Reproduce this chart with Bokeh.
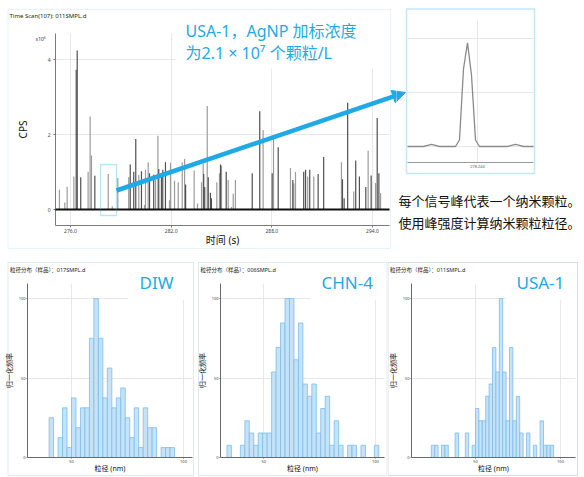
from bokeh.plotting import figure
from bokeh.models import (Range1d, FixedTicker, PrintfTickFormatter, Label, BoxAnnotation,
                          Arrow, NormalHead)
from bokeh.layouts import row, column
from bokeh.embed import file_html
from bokeh.resources import INLINE

# ---------------- data ----------------
scan_title = "Time Scan(107): 011SMPL.d"
time_ticks = [276.0, 282.0, 288.0, 294.0]
cps_ticks = [0, 2, 4]

gray_peak_time = [275.34, 275.66, 275.80, 276.20, 277.05, 277.17, 277.25, 278.25, 278.49, 278.82,
                  279.47, 280.07, 280.41, 280.47, 280.63, 281.07, 281.21, 281.90, 281.96, 282.20,
                  282.42, 282.66, 282.80, 283.37, 283.57, 283.81, 283.91, 284.15, 284.72, 284.88,
                  285.00, 285.40, 285.60, 285.70, 285.83, 287.48, 288.10, 289.11, 289.31, 289.41,
                  290.14, 290.50, 292.15, 292.88, 293.74, 294.18, 294.48]
gray_peak_cps = [0.53, 0.19, 0.61, 0.88, 1.01, 2.48, 1.44, 0.95, 0.09, 0.84,
                 0.86, 0.93, 0.12, 1.06, 1.26, 0.79, 1.97, 0.25, 1.25, 0.77,
                 0.73, 1.26, 1.35, 1.04, 0.16, 0.73, 1.23, 2.76, 0.73, 0.97,
                 1.17, 0.79, 0.07, 0.42, 0.79, 2.12, 1.88, 1.11, 0.70, 1.00,
                 0.88, 0.88, 1.26, 0.48, 1.57, 0.71, 0.44]
dark_peak_time = [276.34, 276.40, 276.61, 277.45, 279.56, 279.77, 279.89, 280.23, 280.71, 280.96,
                  281.26, 281.42, 281.50, 281.66, 282.86, 283.94, 284.00, 284.21, 284.34, 284.40,
                  284.94, 285.28, 286.83, 287.28, 288.02, 288.38, 289.25, 289.90, 290.01, 290.26,
                  290.76, 291.09, 292.21, 292.31, 292.52, 293.00, 293.22, 293.60, 293.92, 294.28,
                  294.38]
dark_peak_cps = [3.73, 4.24, 0.86, 0.90, 1.20, 1.01, 1.88, 1.02, 0.97, 0.93,
                 1.08, 0.95, 1.06, 1.26, 0.67, 0.95, 0.60, 0.86, 0.45, 0.30,
                 1.20, 1.01, 0.97, 2.62, 0.97, 1.66, 0.79, 1.01, 1.06, 1.06,
                 0.95, 1.40, 0.81, 0.30, 2.85, 1.31, 0.88, 0.60, 0.91, 2.44,
                 0.97]

zoom_ticks = [278.244]
zoom_grid = [0.0, 0.5, 1.0]
zoom_time = [278.24225, 278.24235, 278.24245, 278.24255, 278.24265, 278.24275, 278.24285,
             278.24295, 278.24305, 278.24315, 278.24325, 278.24335, 278.24345, 278.24355,
             278.24365, 278.24375, 278.24385, 278.24395, 278.24405, 278.24415, 278.24425,
             278.24435, 278.24445, 278.24455, 278.24465, 278.24475, 278.24485, 278.24495,
             278.24505, 278.24515, 278.24525, 278.24540]
zoom_cps = [0.0, 0.0, 0.0, 0.0, 0.0, 0.01, 0.02, 0.01, 0.0, 0.0, 0.0, 0.0, 0.0, 0.06,
            0.72, 0.96, 0.66, 0.06, 0.0, 0.0, 0.0, 0.0, 0.0, 0.0, 0.0, 0.0, 0.01, 0.02,
            0.01, 0.0, 0.0, 0.0]

size_ticks = [50, 100]
freq_ticks = [0, 50, 100]
bin_width = 2.0

diw_size = [41, 45, 47, 49, 51, 53, 55, 57, 59, 61, 63, 65, 67, 69, 71, 73, 75, 77, 79, 81,
            83, 85, 87, 91, 93, 95]
diw_freq = [25.0, 12.5, 31.25, 6.25, 37.5, 18.75, 31.25, 31.25, 75.0, 100.0, 75.0, 37.5, 56.25,
            31.25, 37.5, 43.75, 25.0, 12.5, 31.25, 6.25, 31.25, 18.75, 18.75, 6.25, 6.25, 6.25]

chn4_size = [34.5, 40.5, 42.5, 44.5, 46.5, 48.5, 50.5, 52.5, 54.5, 56.5, 58.5, 60.5, 62.5, 64.5,
             66.5, 68.5, 70.5, 72.5, 74.5, 76.5, 78.5, 80.5, 82.5, 84.5, 88.5, 90.5, 94.5, 100.5]
chn4_freq = [7.7, 7.7, 23.1, 15.4, 7.7, 15.4, 15.4, 15.4, 53.8, 69.2, 84.6, 100.0, 100.0, 61.5,
             84.6, 46.2, 38.5, 46.2, 15.4, 30.8, 38.5, 7.7, 23.1, 7.7, 7.7, 7.7, 7.7, 7.7]

usa1_size = [25, 27, 31, 33, 39, 45, 49, 51, 53, 55, 57, 59, 61, 63, 65, 67, 69, 71, 73, 75,
             77, 81, 85, 89, 91, 93, 95]
usa1_freq = [7.7, 7.7, 7.7, 7.7, 15.4, 15.4, 7.7, 30.8, 23.1, 23.1, 38.5, 46.2, 69.2, 53.8,
             100.0, 53.8, 23.1, 69.2, 23.1, 38.5, 15.4, 15.4, 7.7, 23.1, 7.7, 7.7, 7.7]

# ---------------- styles ----------------
BLUE = "#1fa9e5"
CJK = "Noto Sans CJK SC"
LAT = "Noto Sans"
MIX = "'Noto Sans', 'Noto Sans CJK SC'"
GRID = "#e8e8e8"


def xmap(p0, v0, per_px):
    return lambda px: v0 + (px - p0) * per_px


def ymap(p0, v0, per_px):
    return lambda py: v0 + (p0 - py) * per_px


def canvas_fig(width, height, xr, yr):
    f = figure(width=width, height=height, output_backend="svg", toolbar_location=None,
               x_range=Range1d(*xr), y_range=Range1d(*yr), min_border=0,
               min_border_left=0, min_border_right=0, min_border_top=0, min_border_bottom=0)
    f.outline_line_color = None
    f.background_fill_color = "white"
    f.border_fill_color = "white"
    f.grid.grid_line_color = GRID
    f.axis.minor_tick_line_color = None
    f.axis.major_tick_in = 0
    return f


def mask(f, fx, fy, l, r, t, b):
    f.add_layout(BoxAnnotation(left=fx(l), right=fx(r), top=fy(t), bottom=fy(b),
                               fill_color="white", fill_alpha=1.0, line_color=None,
                               level="underlay"))


# ---------------- main time scan (page x 0..396, y 0..255) ----------------
tx = xmap(70, 276.0, 18.0 / 302.0)
vy = ymap(209, 0.0, 1.0 / 37.5)
main = canvas_fig(396, 255, (tx(0), tx(396)), (vy(255), vy(0)))

main.xaxis.ticker = FixedTicker(ticks=time_ticks)
main.xaxis.formatter = PrintfTickFormatter(format="%.1f")
main.yaxis.ticker = FixedTicker(ticks=cps_ticks)
main.xaxis.fixed_location = vy(225)
main.xaxis.bounds = (tx(55), tx(389))
main.yaxis.fixed_location = tx(55)
main.yaxis.bounds = (vy(225), vy(33))
main.axis.axis_line_color = "#7a7a7a"
main.axis.major_tick_line_color = "#7a7a7a"
main.axis.major_tick_out = 2
main.yaxis.major_label_standoff = 3
main.xaxis.major_label_standoff = 1
main.axis.major_label_text_font_size = "5px"
main.axis.major_label_text_color = "#444444"
main.axis.major_label_text_font = LAT
main.yaxis.axis_label = "CPS"
main.yaxis.axis_label_text_font = LAT
main.yaxis.axis_label_text_font_size = "10px"
main.yaxis.axis_label_text_font_style = "normal"
main.yaxis.axis_label_text_color = "#111111"
main.yaxis.axis_label_standoff = 15
main.xaxis.axis_label = "时间 (s)"
main.xaxis.axis_label_text_font = MIX
main.xaxis.axis_label_text_font_size = "10px"
main.xaxis.axis_label_text_font_style = "normal"
main.xaxis.axis_label_text_color = "#111111"
main.xaxis.axis_label_standoff = -3

# keep grid lines inside the plotting area and behind the caption
mask(main, tx, vy, -5, 401, -5, 33)
mask(main, tx, vy, -5, 401, 225, 260)
mask(main, tx, vy, -5, 55, -5, 260)
mask(main, tx, vy, 389, 401, -5, 260)
mask(main, tx, vy, 175, 401, -5, 68)

main.segment(x0=gray_peak_time, y0=0, x1=gray_peak_time, y1=gray_peak_cps,
             line_color="#9c9c9c", line_width=1.2)
main.segment(x0=dark_peak_time, y0=0, x1=dark_peak_time, y1=dark_peak_cps,
             line_color="#505050", line_width=1.2)
main.add_layout(BoxAnnotation(left=tx(55), right=tx(389), bottom=vy(210), top=vy(208),
                              fill_color="#111111", fill_alpha=1.0, line_color=None))

main.add_layout(BoxAnnotation(left=tx(100), right=tx(116), bottom=vy(215), top=vy(164),
                              fill_color=None, fill_alpha=0, line_color=BLUE, line_width=1.4))
main.add_layout(BoxAnnotation(left=tx(7.5), right=tx(390), bottom=vy(248), top=vy(9),
                              fill_color=None, fill_alpha=0, line_color="#a9d8f2",
                              line_width=1))

main.add_layout(Label(x=tx(9), y=vy(15), text=scan_title, text_font=LAT,
                      text_font_size="6px", text_baseline="middle", text_color="#222222"))
main.add_layout(Label(x=tx(35), y=vy(38), text="x10⁶", text_font=LAT,
                      text_font_size="5px", text_baseline="middle", text_color="#333333"))
main.add_layout(Label(x=tx(185), y=vy(30), text="USA-1，AgNP 加标浓度", text_font=MIX,
                      text_font_size="16px", text_baseline="middle", text_color=BLUE))
main.add_layout(Label(x=tx(185), y=vy(52), text="为2.1 × 10⁷ 个颗粒/L", text_font=MIX,
                      text_font_size="16px", text_baseline="middle", text_color=BLUE))
main.add_layout(Arrow(x_start=tx(116), y_start=vy(190), x_end=tx(405), y_end=vy(92),
                      line_color=BLUE, line_width=4.5,
                      end=NormalHead(size=13, fill_color=BLUE, line_color=BLUE, line_width=1)))

# ---------------- zoomed single peak + notes (page x 396..584, y 0..255) ----------------
zx = xmap(477, 278.244, 0.000025)
zy = ymap(146, 0.0, 1.0 / 108.0)
right = canvas_fig(188, 255, (zx(396), zx(584)), (zy(255), zy(0)))
right.yaxis.visible = False
right.ygrid.ticker = FixedTicker(ticks=zoom_grid)
right.xaxis.ticker = FixedTicker(ticks=zoom_ticks)
right.xaxis.formatter = PrintfTickFormatter(format="%.3f")
right.xaxis.fixed_location = zy(162)
right.xaxis.bounds = (zx(407), zx(533))
right.xaxis.axis_line_color = "#9a9a9a"
right.xaxis.major_tick_line_color = None
right.xaxis.major_tick_out = 0
right.xaxis.major_label_standoff = 2
right.xaxis.major_label_text_font_size = "4px"
right.xaxis.major_label_text_color = "#555555"

mask(right, zx, zy, 390, 407, -5, 260)
mask(right, zx, zy, 533, 590, -5, 260)
mask(right, zx, zy, 390, 590, -5, 20)
mask(right, zx, zy, 390, 590, 162, 260)

right.line(zoom_time, zoom_cps, line_color="#8a8a8a", line_width=1.3)
right.add_layout(BoxAnnotation(left=zx(406), right=zx(534), bottom=zy(173), top=zy(8.5),
                               fill_color=None, fill_alpha=0, line_color="#3ab4ea",
                               line_width=1.5))
right.add_layout(Arrow(x_start=zx(385), y_start=zy(98.78), x_end=zx(405), y_end=zy(92),
                       line_color=BLUE, line_width=4.5,
                       end=NormalHead(size=13, fill_color=BLUE, line_color=BLUE, line_width=1)))
right.add_layout(Label(x=zx(398), y=zy(200), text="每个信号峰代表一个纳米颗粒。", text_font=CJK,
                       text_font_size="13px", text_baseline="middle", text_color="#111111"))
right.add_layout(Label(x=zx(398), y=zy(222), text="使用峰强度计算纳米颗粒粒径。", text_font=CJK,
                       text_font_size="13px", text_baseline="middle", text_color="#111111"))


# ---------------- size distributions (page y 255..477) ----------------
def hist(page_l, page_r, fx, axis_px, right_px, sizes, freqs, file_label, tag, tag_px,
         border_l, border_r, border_color):
    fy = ymap(457, 0.0, 1.0 / 1.59)
    h = canvas_fig(page_r - page_l, 222, (fx(page_l), fx(page_r)), (fy(477), fy(255)))
    h.xaxis.ticker = FixedTicker(ticks=size_ticks)
    h.yaxis.ticker = FixedTicker(ticks=freq_ticks)
    h.xaxis.fixed_location = 0
    h.xaxis.bounds = (fx(axis_px), fx(right_px))
    h.yaxis.fixed_location = fx(axis_px)
    h.yaxis.bounds = (0, fy(283))
    h.axis.axis_line_color = "#6a6a6a"
    h.axis.major_tick_line_color = "#6a6a6a"
    h.axis.major_tick_out = 1
    h.axis.major_label_standoff = 1
    h.axis.major_label_text_font_size = "4px"
    h.axis.major_label_text_font = LAT
    h.axis.major_label_text_color = "#444444"
    h.axis.axis_label_text_font = MIX
    h.axis.axis_label_text_font_size = "7px"
    h.axis.axis_label_text_font_style = "normal"
    h.axis.axis_label_text_color = "#111111"
    h.xaxis.axis_label = "粒径 (nm)"
    h.yaxis.axis_label = "归一化频率"
    h.xaxis.axis_label_standoff = -2
    h.yaxis.axis_label_standoff = 2

    mask(h, fx, fy, page_l - 5, page_r + 5, 250, 283)
    mask(h, fx, fy, page_l - 5, page_r + 5, 457, 482)
    mask(h, fx, fy, page_l - 5, axis_px, 250, 482)
    mask(h, fx, fy, right_px, page_r + 5, 250, 482)
    mask(h, fx, fy, tag_px - 11, page_r + 5, 250, 299.5)

    h.vbar(x=sizes, top=freqs, width=bin_width, bottom=0, fill_color="#c5e3f8",
           line_color="#7fbde9", line_width=0.8)
    h.add_layout(BoxAnnotation(left=fx(border_l), right=fx(border_r), bottom=fy(475),
                               top=fy(262), fill_color=None, fill_alpha=0,
                               line_color=border_color, line_width=1))
    h.add_layout(Label(x=fx(border_l + 2), y=fy(269), text="粒径分布（样品）：" + file_label,
                       text_font=MIX, text_font_size="5.5px", text_baseline="middle",
                       text_color="#222222"))
    h.add_layout(Label(x=fx(tag_px), y=fy(282), text=tag, text_font=LAT,
                       text_font_size="17px", text_baseline="middle", text_color=BLUE))
    return h


h1 = hist(0, 196, xmap(71, 50.0, 1 / 2.24), 27, 192, diw_size, diw_freq, "017SMPL.d",
          "DIW", 139, 7.5, 193, "#9bbbd6")
h2 = hist(196, 387, xmap(263.3, 50.0, 1 / 2.2336), 220, 384, chn4_size, chn4_freq,
          "006SMPL.d", "CHN-4", 321, 198, 386.5, "#9bbbd6")
h3 = hist(387, 584, xmap(475, 50.0, 1 / 1.7), 411, 575, usa1_size, usa1_freq, "011SMPL.d",
          "USA-1", 516, 387.5, 577, "#7d8f9e")

layout = column(row(main, right, spacing=0), row(h1, h2, h3, spacing=0), spacing=0)
open("out.html", "w").write(file_html(layout, INLINE))
